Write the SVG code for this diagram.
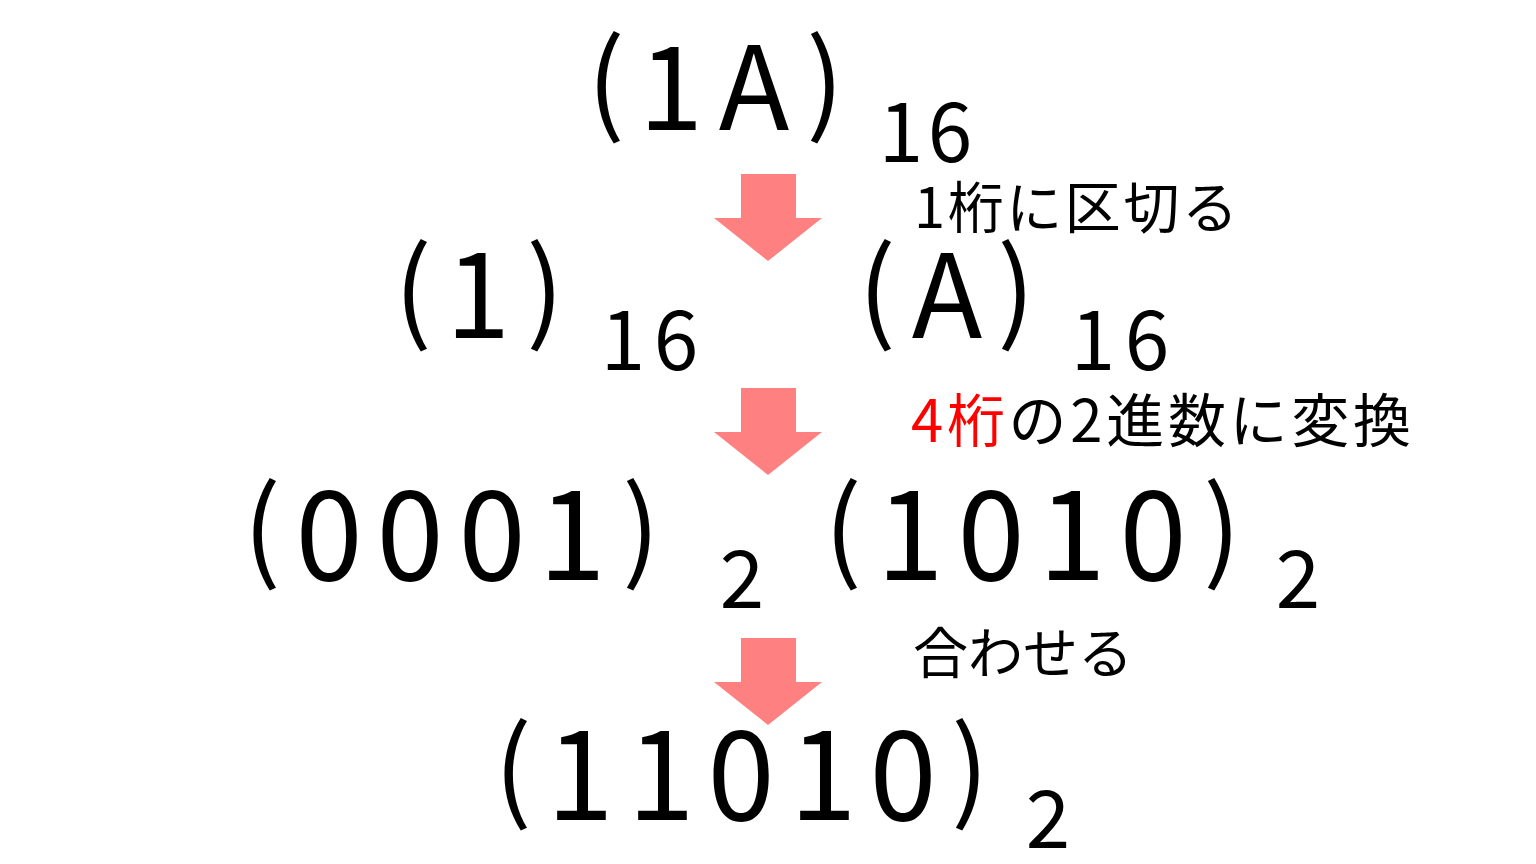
<svg xmlns="http://www.w3.org/2000/svg" width="1536" height="864" viewBox="0 0 1536 864">
  <style>
    text { font-family: "Noto Sans CJK JP", "Noto Sans", sans-serif; fill: #000; }
    .big { font-size: 116px; text-anchor: middle; }
    .bin { font-size: 121px; text-anchor: middle; }
    .par { font-size: 111px; }
    .sub { font-size: 80px; text-anchor: middle; }
    .lbl { font-size: 56px; }
    .red { fill: #FF0000; }
    .arrow { fill: #FF8080; }
  </style>
  <rect width="1536" height="864" fill="#FFFFFF"/>

  <g id="connectors">
    <polygon class="arrow" points="741,174 796,174 796,218 822,218 768,261 714,218 741,218"/>
    <polygon class="arrow" points="741,388 796,388 796,432 822,432 768,475 714,432 741,432"/>
    <polygon class="arrow" points="741,638 796,638 796,682 822,682 768,725 714,682 741,682"/>
  </g>

  <g id="node-1A-hex">
    <text class="big" y="130"><tspan class="par" x="606" y="122">(</tspan><tspan x="671 754" y="130">1A</tspan><tspan class="par" x="825" y="122">)</tspan></text>
    <text class="sub" x="901 950" y="162">16</text>
  </g>

  <g id="label-split">
    <text class="lbl" x="914" y="228" textLength="324" lengthAdjust="spacing">1桁に区切る</text>
  </g>

  <g id="node-1-hex">
    <text class="big" y="338"><tspan class="par" x="413" y="330">(</tspan><tspan x="478" y="338">1</tspan><tspan class="par" x="545" y="330">)</tspan></text>
    <text class="sub" x="623 676" y="370">16</text>
  </g>

  <g id="node-A-hex">
    <text class="big" y="338"><tspan class="par" x="877" y="330">(</tspan><tspan x="947" y="338">A</tspan><tspan class="par" x="1016" y="330">)</tspan></text>
    <text class="sub" x="1093 1147" y="370">16</text>
  </g>

  <g id="label-convert">
    <text class="lbl" x="911" y="442" style="font-size:58px" textLength="500" lengthAdjust="spacing"><tspan class="red">4桁</tspan>の2進数に変換</text>
  </g>

  <g id="node-0001-bin">
    <text class="bin" y="580"><tspan class="par" x="262" y="569">(</tspan><tspan x="329 410 492 572" y="580">0001</tspan><tspan class="par" x="641" y="569">)</tspan></text>
    <text class="sub" x="742" y="608">2</text>
  </g>

  <g id="node-1010-bin">
    <text class="bin" y="580"><tspan class="par" x="843" y="569">(</tspan><tspan x="910 991 1072 1153" y="580">1010</tspan><tspan class="par" x="1222" y="569">)</tspan></text>
    <text class="sub" x="1298" y="608">2</text>
  </g>

  <g id="label-combine">
    <text class="lbl" x="913" y="673" style="font-size:55px" textLength="220" lengthAdjust="spacing">合わせる</text>
  </g>

  <g id="node-11010-bin">
    <text class="bin" y="820"><tspan class="par" x="513" y="809">(</tspan><tspan x="580 661 741 823 903" y="820">11010</tspan><tspan class="par" x="970" y="809">)</tspan></text>
    <text class="sub" x="1048" y="848">2</text>
  </g>
</svg>
